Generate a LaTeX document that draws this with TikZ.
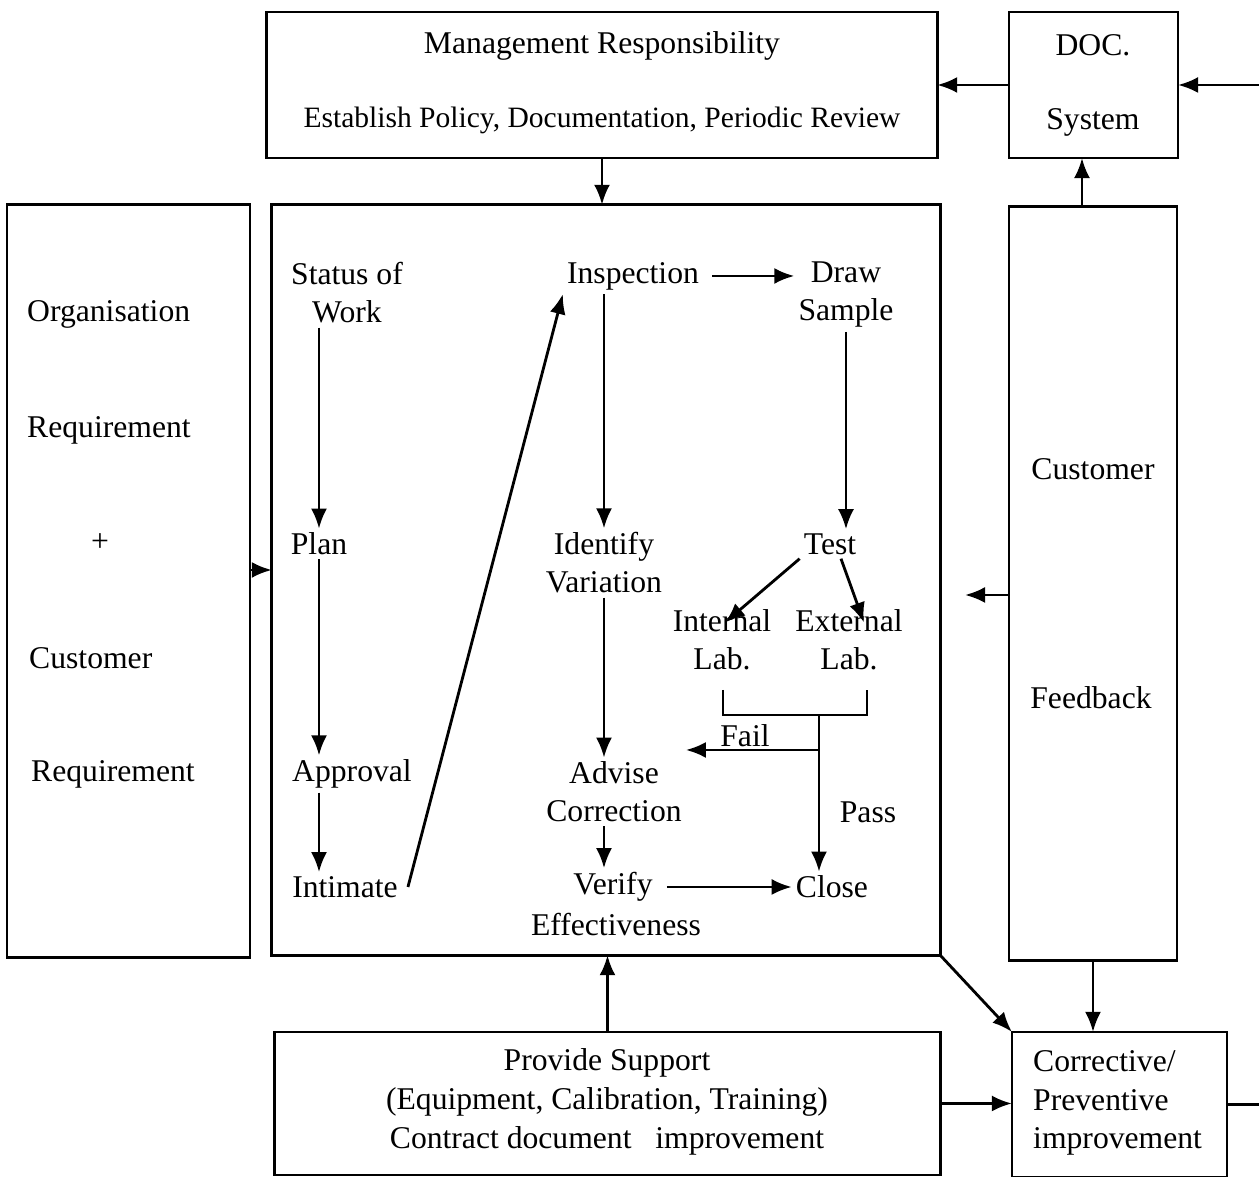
\documentclass[tikz,border=0pt]{standalone}
\usepackage{fontspec}
\setmainfont{Liberation Serif}
\usetikzlibrary{positioning, arrows.meta, calc}

\begin{document}
\begin{tikzpicture}[x=0.01cm, y=-0.01cm]
		\tikzstyle{box} = [draw, thick, rectangle, outer sep=0, inner sep=0]
		\tikzstyle{txt} = [font=\fontsize{9}{10.8}\selectfont, align=center, inner sep=1pt]
		\tikzstyle{arr} = [-{Latex[length=2mm, width=1.6mm]}, thick]
		\tikzstyle{line} = [draw, thick]
		\useasboundingbox (0,0) rectangle (1259,1177);
		% outer frame of blocks
		\node [box, minimum width=6.70cm, minimum height=1.46cm] (v_mgmt) at (602,85) {};
		\node [box, minimum width=1.69cm, minimum height=1.46cm] (v_doc) at (1093.5,85) {};
		\node [box, minimum width=2.43cm, minimum height=7.52cm] (v_left) at (128.5,581) {};
		\node [box, minimum width=6.68cm, minimum height=7.50cm] (v_main) at (606,580) {};
		\node [box, minimum width=1.68cm, minimum height=7.53cm] (v_fb) at (1093,583.5) {};
		\node [box, minimum width=6.65cm, minimum height=1.43cm] (v_supp) at (607.5,1103.5) {};
		\node [box, minimum width=2.15cm, minimum height=1.45cm] (v_corr) at (1119.5,1104.5) {};
		\node [txt] (v_mgmt1) at (602,46) {Management Responsibility};
		\node [txt, font=\fontsize{8.4}{10}\selectfont] (v_mgmt2) at (602,120) {Establish Policy, Documentation, Periodic Review};
		\node [txt] (v_doc1) at (1093,45) {DOC.};
		\node [txt] (v_doc2) at (1093,122) {System};
		\node [txt, anchor=west] (v_org) at (23,314) {Organisation};
		\node [txt, anchor=west] (v_req1) at (23,430) {Requirement};
		\node [txt] (v_plus) at (100,543) {+};
		\node [txt, anchor=west] (v_cust) at (25,658) {Customer};
		\node [txt, anchor=west] (v_req2) at (27,774) {Requirement};
		\node [txt] (v_fb1) at (1093,469) {Customer};
		\node [txt] (v_fb2) at (1091,698) {Feedback};
		\node [txt, font=\fontsize{9}{11}\selectfont] (v_supptxt) at (607,1102) {Provide Support\\(Equipment, Calibration, Training)\\Contract document\ \ \ improvement};
		\node [txt, anchor=west, align=left, font=\fontsize{9}{11}\selectfont] (v_corrtxt) at (1029,1103) {Corrective/\\Preventive\\improvement};
		% links between blocks
		\coordinate (v_rin) at (1259,85);
		\coordinate (v_rout) at (1259,1103);
		\coordinate (v_fbout) at (965,595);
		\draw [arr] (v_rin) -- (v_doc.east);
		\draw [arr] (v_doc.west) -- (v_mgmt.east);
		\draw [arr] (v_mgmt.south) -- (v_mgmt.south |- v_main.north);
		\draw [arr] ($(v_left.east)+(0,-11)$) -- ($(v_left.east -| v_main.west)+(0,-11)$);
		\draw [arr] ($(v_fb.north)+(-11,0)$) -- ($(v_fb.north |- v_doc.south)+(-11,0)$);
		\draw [arr] (v_fb.west |- v_fbout) -- (v_fbout);
		\draw [arr] (v_fb.south) -- (v_fb.south |- v_corr.north);
		\draw [arr] (v_main.south east) -- (v_corr.north west);
		\draw [arr] (v_supp.north) -- (v_supp.north |- v_main.south);
		\draw [arr] (v_supp.east) -- (v_supp.east -| v_corr.west);
		\draw [thick] (v_corr.east) -- (v_corr.east -| v_rout);
		% work flow inside
		\node [txt] (v_status) at (347,293) {Status of\\Work};
		\node [txt] (v_plan) at (319,544) {Plan};
		\node [txt] (v_appr) at (352,774) {Approval};
		\node [txt] (v_int) at (345,887) {Intimate};
		\node [txt] (v_insp) at (633,276) {Inspection};
		\node [txt] (v_draw) at (846,295) {Draw\\Sample};
		\node [txt] (v_ident) at (604,563) {Identify\\Variation};
		\node [txt] (v_test) at (830,544) {Test};
		\node [txt] (v_inl) at (722,640) {Internal\\Lab.};
		\node [txt] (v_exl) at (849,640) {External\\Lab.};
		\node [txt] (v_adv) at (614,792) {Advise\\Correction};
		\node [txt] (v_ver) at (613,887) {Verify};
		\node [txt] (v_eff) at (616,925) {Effectiveness};
		\node [txt] (v_close) at (832,887) {Close};
		\node [txt] (v_fail) at (745,736) {Fail};
		\node [txt] (v_pass) at (868,812) {Pass};
		\coordinate (v_bl) at (723,690);
		\coordinate (v_br) at (867,690);
		\coordinate (v_jn) at (819,715);
		\coordinate (v_fk) at (819,750);
		\draw [arr] (v_plan |- v_status.south) -- (v_plan.north);
		\draw [arr] (v_plan.south) -- (v_plan.south |- v_appr.north);
		\draw [arr] (v_plan |- v_appr.south) -- (v_plan |- v_int.north);
		\draw [arr] ($(v_int.east)+(6,0)$) -- (v_insp.south west);
		\draw [arr] ($(v_insp.east)+(9,0)$) -- (v_insp.east -| v_draw.west);
		\draw [arr] (v_ident |- v_insp.south) -- (v_ident.north);
		\draw [arr] (v_draw.south) -- (v_draw.south |- v_test.north);
		\draw [arr] (v_test.south west) -- ($(v_inl.north)+(3,17)$);
		\draw [arr] ($(v_test.south)+(11,0)$) -- ($(v_exl.north)+(15,17)$);
		\draw [arr] (v_ident.south) -- (v_ident.south |- v_adv.north);
		\draw [arr] (v_ident |- v_adv.south) -- (v_ident |- v_ver.north);
		\draw [arr] ($(v_ver.east)+(10,0)$) -- (v_close.west);
		\draw [thick] (v_bl) |- (v_br |- v_jn) -- (v_br);
		\draw [arr] (v_fk) -- (v_fk -| v_adv.east);
		\draw [arr] (v_jn) -- (v_jn |- v_close.north);
\end{tikzpicture}
\end{document}
